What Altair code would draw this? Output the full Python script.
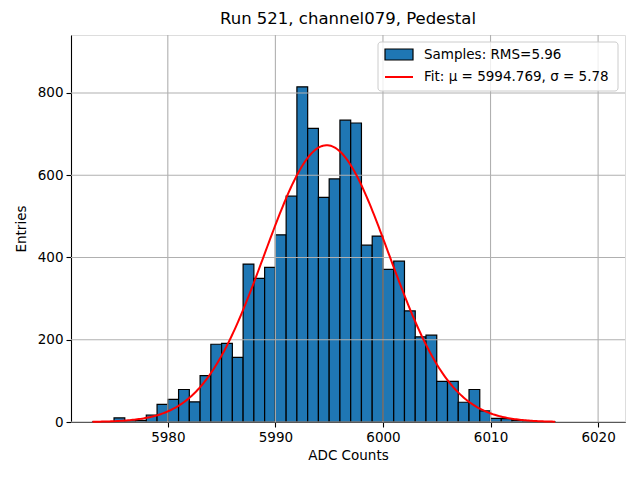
import altair as alt
import numpy as np
import pandas as pd

# ---- data ----
bin_left = list(range(5973, 6016))
counts = [1, 0, 10, 3, 4, 17, 43, 55, 79, 49,
          113, 189, 191, 157, 384, 349, 376, 455, 549, 815,
          714, 546, 591, 734, 727, 430, 452, 371, 391, 270,
          207, 211, 99, 99, 48, 79, 27, 9, 8, 4,
          3, 1, 1]
bin_width = 1

fit_mu = 5994.769
fit_sigma = 5.78
fit_peak = 673
fit_start, fit_end = 5973, 6016

x_ticks = [5980, 5990, 6000, 6010, 6020]
y_ticks = [0, 200, 400, 600, 800]

title = "Run 521, channel079, Pedestal"
label_samples = "Samples: RMS=5.96"
label_fit = "Fit: \u03bc = 5994.769, \u03c3 = 5.78"

FONT = "DejaVu Sans"
W, H = 554, 387

hist = pd.DataFrame({"left": bin_left,
                     "right": [b + bin_width for b in bin_left],
                     "count": counts,
                     "zero": [0] * len(bin_left)})
gx = np.linspace(fit_start, fit_end, 300)
gauss = pd.DataFrame({"x": gx,
                      "y": fit_peak * np.exp(-0.5 * ((gx - fit_mu) / fit_sigma) ** 2)})

xscale = alt.Scale(domain=[5971, 6022.5], nice=False, zero=False)
yscale = alt.Scale(domain=[0, 941], nice=False)

xaxis = alt.Axis(values=x_ticks, format="d", grid=False, title="ADC Counts",
                 labelFont=FONT, titleFont=FONT, labelFontSize=13.5, titleFontSize=13.5,
                 titleFontWeight="normal", labelColor="black", titleColor="black",
                 domainColor="black", tickColor="black", tickSize=5, labelPadding=3,
                 titlePadding=5, domainWidth=1.1, tickWidth=1.1, labelFlush=False)
yaxis = alt.Axis(values=y_ticks, format="d", grid=False, title="Entries",
                 labelFont=FONT, titleFont=FONT, labelFontSize=13.5, titleFontSize=13.5,
                 titleFontWeight="normal", labelColor="black", titleColor="black",
                 domainColor="black", tickColor="black", tickSize=5, labelPadding=3,
                 titlePadding=9, domainWidth=1.1, tickWidth=1.1, labelFlush=False)

bars = alt.Chart(hist).mark_rect(color="#1f77b4", stroke="black", strokeWidth=1.2).encode(
    x=alt.X("left:Q", scale=xscale, axis=xaxis),
    x2="right:Q",
    y=alt.Y("count:Q", scale=yscale, axis=yaxis),
    y2="zero:Q",
)

xgrid = alt.Chart(pd.DataFrame({"v": x_ticks})).mark_rule(color="#b0b0b0", strokeWidth=1.1).encode(
    x=alt.X("v:Q", scale=xscale)
)
ygrid = alt.Chart(pd.DataFrame({"v": y_ticks})).mark_rule(color="#b0b0b0", strokeWidth=1.1).encode(
    y=alt.Y("v:Q", scale=yscale)
)

fit_line = alt.Chart(gauss).mark_line(color="red", strokeWidth=2).encode(
    x=alt.X("x:Q", scale=xscale),
    y=alt.Y("y:Q", scale=yscale),
)

one = alt.Data(values=[{"a": 1}])
leg_box = alt.Chart(one).mark_rect(fill="white", fillOpacity=0.8, stroke="#cccccc",
                                   strokeWidth=1, cornerRadius=3).encode(
    x=alt.value(307), x2=alt.value(547), y=alt.value(7), y2=alt.value(56))
leg_patch = alt.Chart(one).mark_rect(fill="#1f77b4", stroke="black", strokeWidth=1.2).encode(
    x=alt.value(314), x2=alt.value(342), y=alt.value(14), y2=alt.value(25))
leg_line = alt.Chart(one).mark_rule(color="red", strokeWidth=2).encode(
    x=alt.value(314), x2=alt.value(342), y=alt.value(42))
leg_t1 = alt.Chart(one).mark_text(align="left", baseline="middle", font=FONT, fontSize=13.5,
                                  color="black").encode(
    x=alt.value(353), y=alt.value(19.5), text=alt.value(label_samples))
leg_t2 = alt.Chart(one).mark_text(align="left", baseline="middle", font=FONT, fontSize=13.5,
                                  color="black").encode(
    x=alt.value(353), y=alt.value(42), text=alt.value(label_fit))

chart = alt.layer(bars, xgrid, ygrid, fit_line, leg_box, leg_patch, leg_line, leg_t1, leg_t2).properties(
    width=W, height=H,
    title=alt.TitleParams(title, font=FONT, fontSize=16.5, fontWeight="normal", color="black",
                          anchor="middle", offset=7),
    autosize=alt.AutoSizeParams(type="none"),
    padding={"left": 63, "top": 27, "right": 7, "bottom": 50},
).configure_view(stroke="black", strokeWidth=1.1).configure(background="white")

chart.save("out.html", embed_options={"renderer": "svg", "actions": False})
